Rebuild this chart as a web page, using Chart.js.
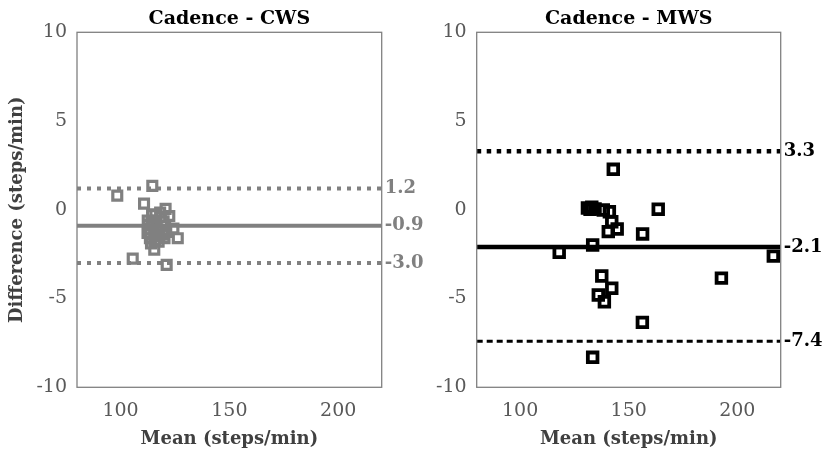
<!DOCTYPE html>
<html>
<head>
<meta charset="utf-8">
<script src="https://cdn.jsdelivr.net/npm/chart.js@4.4.0/dist/chart.umd.min.js"></script>
<style>
    html, body { margin: 0; padding: 0; background: #fff; }
    #wrap { position: relative; width: 822px; height: 451px; }
    .box { position: absolute; top: 0; height: 451px; }
    #left { left: 0; width: 430px; }
    #right { left: 411px; width: 411px; }
</style>
</head>
<body>
<div id="wrap">
    <div class="box" id="left"><canvas id="cwsChart"></canvas></div>
    <div class="box" id="right"><canvas id="mwsChart"></canvas></div>
</div>
<script>
const xMin = 80, xMax = 220;
const yMin = -10, yMax = 10;
const xTickValues = [100, 150, 200];
const yTickValues = [-10, -5, 0, 5, 10];

// Cadence - CWS
const cwsMean = [98.5, 114.6, 110.8, 120.7, 122.4, 124.3, 126.3, 115.5, 105.6, 121.2,
                 112.5, 113.0, 113.5, 114.5, 115.0, 115.5, 116.5, 117.0, 117.5, 118.5,
                 119.0, 119.5, 120.5, 114.0, 112.8, 114.2, 116.0, 117.8, 119.8, 121.0,
                 113.6, 115.8, 118.2, 120.2, 116.8, 112.4];
const cwsDiff = [0.8, 1.35, 0.35, 0.05, -0.35, -1.05, -1.6, -2.25, -2.75, -3.1,
                 -0.6, -1.1, -1.6, -0.3, -0.9, -1.4, -0.6, -1.1, -1.8, -0.4,
                 -0.9, -1.4, -0.9, -1.9, -0.85, -0.75, -0.25, -1.45, -0.65, -1.25,
                 -1.3, -1.7, -0.15, -1.6, -1.5, -1.3];
const cwsLimitValues = [1.2, -0.9, -3.0];
const cwsLimitLabels = ['1.2', '-0.9', '-3.0'];

// Cadence - MWS
const mwsMean = [142.9, 132.2, 134.5, 138.3, 141.1, 163.6, 142.2, 144.7, 140.6, 156.4,
                 133.4, 118.0, 216.6, 137.6, 192.7, 142.2, 136.0, 138.8, 156.3, 133.4,
                 131.0, 133.0];
const mwsDiff = [2.28, 0.03, 0.05, -0.01, -0.11, 0.03, -0.67, -1.08, -1.23, -1.36,
                 -1.98, -2.39, -2.61, -3.73, -3.85, -4.42, -4.80, -5.18, -6.34, -8.31,
                 0.1, 0.15];
const mwsLimitValues = [3.3, -2.1, -7.4];
const mwsLimitLabels = ['3.3', '-2.1', '-7.4'];

const FONT = "'DejaVu Serif', serif";

// frame round the plot area
const frameBox = {
    id: 'frameBox',
    afterDatasetsDraw(chart) {
        const a = chart.chartArea;
        const ctx = chart.ctx;
        ctx.save();
        ctx.strokeStyle = '#808080';
        ctx.lineWidth = 1.3;
        ctx.strokeRect(a.left, a.top, a.right - a.left, a.bottom - a.top);
        ctx.restore();
    }
};

// panel title centred over the plot area, and value labels at the right end of the limit lines
const panelText = {
    id: 'panelText',
    afterDraw(chart, args, opts) {
        const ctx = chart.ctx;
        const a = chart.chartArea;
        const yScale = chart.scales.y;
        ctx.save();
        ctx.font = 'bold 19px ' + FONT;
        ctx.fillStyle = '#000';
        ctx.textAlign = 'center';
        ctx.textBaseline = 'middle';
        ctx.fillText(opts.title, (a.left + a.right) / 2, 19);

        ctx.font = 'bold 18px ' + FONT;
        ctx.fillStyle = opts.color;
        ctx.textAlign = 'left';
        opts.values.forEach((v, i) => {
            ctx.fillText(opts.labels[i], a.right + 3, yScale.getPixelForValue(v));
        });
        ctx.restore();
    }
};

function hLine(value, color, width, dash) {
    return {
        data: [{ x: xMin, y: value }, { x: xMax, y: value }],
        showLine: true,
        borderColor: color,
        borderWidth: width,
        borderDash: dash,
        borderCapStyle: 'butt',
        pointRadius: 0,
        fill: false
    };
}

function makeChart(canvasId, cfg) {
    const points = cfg.mean.map((m, i) => ({ x: m, y: cfg.diff[i] }));
    return new Chart(document.getElementById(canvasId), {
        type: 'scatter',
        data: {
            datasets: [
                {
                    data: points,
                    pointStyle: 'rect',
                    pointRadius: cfg.pointRadius,
                    borderWidth: cfg.pointBorder,
                    pointBorderColor: cfg.color,
                    pointBackgroundColor: 'rgba(255,255,255,0)'
                },
                hLine(cfg.limits[0], cfg.color, cfg.upper.width, cfg.upper.dash),
                hLine(cfg.limits[1], cfg.color, cfg.meanWidth, []),
                hLine(cfg.limits[2], cfg.color, cfg.lower.width, cfg.lower.dash)
            ]
        },
        options: {
            animation: false,
            responsive: true,
            maintainAspectRatio: false,
            layout: { padding: { left: 0, right: cfg.padRight, top: 32.3, bottom: 0 } },
            plugins: {
                legend: { display: false },
                tooltip: { enabled: false },
                panelText: { title: cfg.title, values: cfg.limits, labels: cfg.limitText, color: cfg.color }
            },
            scales: {
                x: {
                    type: 'linear',
                    min: xMin,
                    max: xMax,
                    afterBuildTicks: s => { s.ticks = xTickValues.map(v => ({ value: v })); },
                    afterFit: s => { s.height = 63.7; },
                    grid: { display: false, drawTicks: false },
                    border: { display: false },
                    ticks: { color: '#595959', font: { family: FONT, size: 19 }, padding: 12 },
                    title: {
                        display: true,
                        text: 'Mean (steps/min)',
                        color: '#404040',
                        font: { family: FONT, size: 18, weight: 'bold' },
                        padding: { top: 0, bottom: 1 }
                    }
                },
                y: {
                    type: 'linear',
                    min: yMin,
                    max: yMax,
                    afterBuildTicks: s => { s.ticks = yTickValues.map(v => ({ value: v })); },
                    afterFit: s => { s.width = cfg.yWidth; },
                    grid: { display: false, drawTicks: false },
                    border: { display: false },
                    ticks: { color: '#595959', font: { family: FONT, size: 19 }, padding: 10 },
                    title: {
                        display: cfg.yTitle,
                        text: 'Difference (steps/min)',
                        color: '#404040',
                        font: { family: FONT, size: 18, weight: 'bold' },
                        padding: { top: 7, bottom: 0 }
                    }
                }
            }
        },
        plugins: [frameBox, panelText]
    });
}

makeChart('cwsChart', {
    title: 'Cadence - CWS',
    mean: cwsMean,
    diff: cwsDiff,
    limits: cwsLimitValues,
    limitText: cwsLimitLabels,
    color: '#808080',
    pointRadius: 6.3,
    pointBorder: 3.2,
    meanWidth: 4,
    upper: { width: 4, dash: [4, 6] },
    lower: { width: 4, dash: [4, 6] },
    yTitle: true,
    yWidth: 77,
    padRight: 48.3
});

makeChart('mwsChart', {
    title: 'Cadence - MWS',
    mean: mwsMean,
    diff: mwsDiff,
    limits: mwsLimitValues,
    limitText: mwsLimitLabels,
    color: '#000000',
    pointRadius: 6.8,
    pointBorder: 3.8,
    meanWidth: 4.5,
    upper: { width: 4.5, dash: [4.5, 5.5] },
    lower: { width: 3, dash: [6, 4] },
    yTitle: false,
    yWidth: 65.7,
    padRight: 41.3
});
</script>
</body>
</html>
